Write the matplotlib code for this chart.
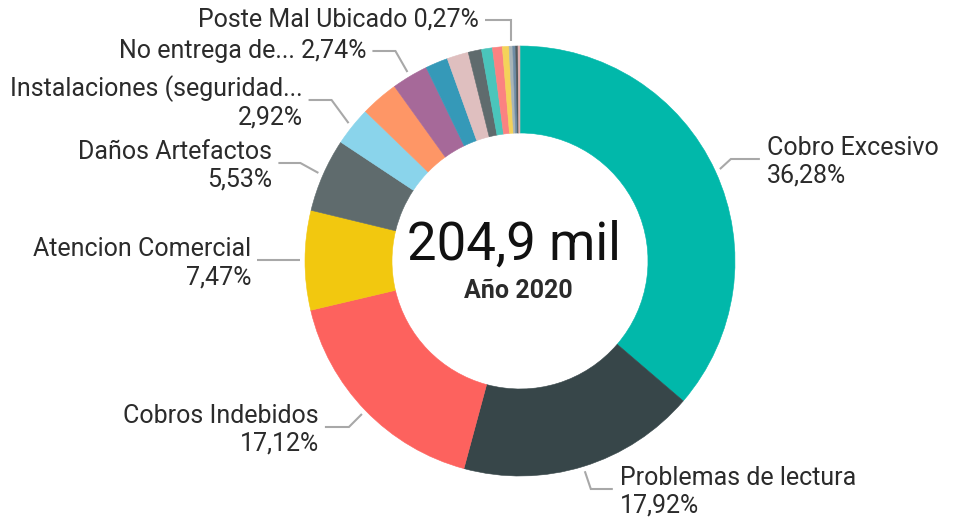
import numpy as np
import matplotlib
matplotlib.use("Agg")
import matplotlib.pyplot as plt

# ---------------- data ----------------
categories = [
    "Cobro Excesivo", "Problemas de lectura", "Cobros Indebidos",
    "Atencion Comercial", "Daños Artefactos", "Instalaciones (seguridad...",
    "Otro 7", "No entrega de...", "Otro 9", "Otro 10", "Otro 11", "Otro 12",
    "Otro 13", "Otro 14", "Poste Mal Ubicado", "Otro 16", "Otro 17", "Otro 18",
]
percentages = [
    36.28, 17.92, 17.12, 7.47, 5.53, 2.92,
    2.84, 2.74, 1.69, 1.62, 1.00, 0.82,
    0.74, 0.50, 0.27, 0.22, 0.17, 0.15,
]
colors = [
    "#01B8AA", "#374649", "#FD625E", "#F2C80F", "#5F6B6D", "#8AD4EB",
    "#FE9666", "#A66999", "#3599B8", "#DFBFBF", "#5F6B6D", "#4AC5BB",
    "#FB8281", "#F4D25A", "#A7B4B8", "#6E8CA5", "#4F5A5C", "#E0B0B0",
]
total_label = "204,9 mil"
subtitle = "Año 2020"

# labels shown: index -> (leader line y in px from top, elbow dx, horizontal length, two lines?)
label_layout = {
    0: (159, 11, 29, True),
    1: (489, 6, 22, True),
    2: (427, -13, 24, True),
    3: (260, 0, 43, True),
    4: (163, -18, 22, True),
    5: (100, -17, 23, True),
    7: (51, -12, 23, False),
    14: (20, 0, 26, False),
}

# ---------------- figure ----------------
W, H = 959, 517
fig = plt.figure(figsize=(W / 100, H / 100), dpi=100)
ax = fig.add_axes([0, 0, 1, 1])

FONT = ["Roboto", "DejaVu Sans"]
TXT = "#2b2b2b"
LINE = "#a8a8a8"
FS = 18

cx, cy_px, R = 520, 261, 215
cy = H - cy_px
inner = 128

wedges, _ = ax.pie(
    percentages, colors=colors, startangle=90, counterclock=False,
    center=(cx, cy), radius=R,
    wedgeprops=dict(width=R - inner, linewidth=0.4, antialiased=True),
)
for w, c in zip(wedges, colors):
    w.set_edgecolor(c)

ax.set_xlim(0, W)
ax.set_ylim(0, H)
ax.set_aspect("equal")
ax.axis("off")

def fmt(v):
    return f"{v:.2f}".replace(".", ",") + "%"

for idx, (ly_px, edx, hlen, two) in label_layout.items():
    w = wedges[idx]
    mid = np.deg2rad((w.theta1 + w.theta2) / 2)
    sx = cx + (R + 5) * np.cos(mid)
    sy = cy + (R + 5) * np.sin(mid)
    right = np.cos(mid) > 0.02 and idx != 14
    ly = H - ly_px
    ex = sx + edx
    hx = ex + hlen if right else ex - hlen
    ax.plot([sx, ex, hx], [sy, ly, ly], color=LINE, lw=1.5,
            solid_joinstyle="miter", solid_capstyle="butt")
    tx = hx + 7 if right else hx - 6
    ha = "left" if right else "right"
    if two:
        ax.text(tx, ly + 11, categories[idx], ha=ha, va="center",
                fontsize=FS, family=FONT, color=TXT)
        ax.text(tx, ly - 17, fmt(percentages[idx]), ha=ha, va="center",
                fontsize=FS, family=FONT, color=TXT)
    else:
        ax.text(tx, ly, f"{categories[idx]} {fmt(percentages[idx])}",
                ha=ha, va="center", fontsize=FS, family=FONT, color=TXT)

ax.text(514, H - 245, total_label, ha="center", va="center",
        fontsize=38, family=FONT, color="#111111")
ax.text(518, H - 291, subtitle, ha="center", va="center",
        fontsize=18, family=FONT, weight="bold", color=TXT)

fig.savefig("out.png", dpi=100)
